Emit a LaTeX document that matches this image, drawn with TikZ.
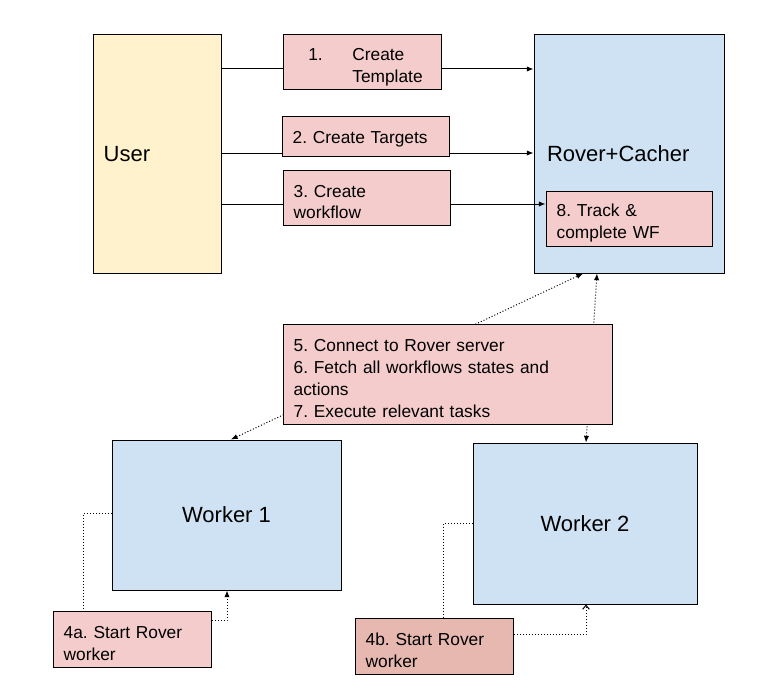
\documentclass[tikz,border=0pt]{standalone}
\usepackage{fontspec}
\setmainfont{Liberation Sans}
\frenchspacing
\usepackage{tikz}
\usetikzlibrary{arrows.meta,backgrounds}
\definecolor{userfill}{HTML}{FFF2CC}
\definecolor{nodefill}{HTML}{CFE2F3}
\definecolor{stepfill}{HTML}{F4CCCC}
\definecolor{startfill}{HTML}{E6B8AF}
\tikzstyle{box} = [draw=black, line width=0.75pt, rectangle, inner xsep=8pt, inner ysep=0pt, align=left]
\tikzstyle{stepbox} = [box, fill=stepfill, font=\fontsize{13}{16.3}\selectfont]
\tikzstyle{bigbox} = [box, fill=nodefill, font=\fontsize{16.5}{20}\selectfont]
\tikzstyle{lowered} = [execute at begin node={\rule{0pt}{16pt}}]
\tikzstyle{arrow} = [-{Latex[length=5pt,width=4pt]}, line width=0.75pt]
\tikzstyle{dots} = [line width=0.75pt, dash pattern=on 0.75pt off 1.5pt]
\begin{document}
\begin{tikzpicture}[x=0.75pt, y=-0.75pt]
      \useasboundingbox (0,0) rectangle (768,699);
      % workers
      \node[bigbox, minimum width=171.75pt, minimum height=112.5pt, align=center] (worker1) at (226.5,515) {Worker 1};
      \node[bigbox, minimum width=168pt, minimum height=120.75pt, align=center] (worker2) at (585,523.5) {Worker 2};
      % steps
      \node[stepbox, lowered, minimum width=118.5pt, minimum height=41.25pt, text width=102.5pt] (create1) at (362,62.5)
            {\hspace*{11pt}\makebox[33pt][l]{1.}Create\\\hspace*{44pt}Template};
      \node[stepbox, execute at begin node={\rule{0pt}{13pt}}, minimum width=125.25pt, minimum height=29.25pt, text width=109.25pt] (create2) at (365.5,136.5) {2. Create Targets};
      \node[stepbox, lowered, minimum width=125.25pt, minimum height=41.25pt, text width=109.25pt] (create3) at (366.5,197.5) {3. Create\\workflow};
      \node[stepbox, lowered, minimum width=124.5pt, minimum height=41.25pt, text width=108.5pt] (track) at (629,218.5) {8. Track \&\\complete WF};
      \node[stepbox, lowered, minimum width=246.75pt, minimum height=75pt, text width=230.75pt] (execute) at (447.5,374)
            {5. Connect to Rover server\\6. Fetch all workflows states and\\actions\\7. Execute relevant tasks};
      \node[stepbox, lowered, minimum width=118.5pt, minimum height=42pt, text width=102.5pt] (start1) at (132,639) {4a. Start Rover\\worker};
      \node[stepbox, lowered, fill=startfill, minimum width=118.5pt, minimum height=42pt, text width=102.5pt] (start2) at (434,646) {4b. Start Rover\\worker};
      \begin{pgfonlayer}{background}
      % user and server
      \node[bigbox, fill=userfill, minimum width=96pt, minimum height=178.5pt, text width=80pt] (user) at (157,154) {User};
      \node[bigbox, minimum width=142.5pt, minimum height=178.5pt, inner xsep=9.75pt, text width=123pt] (rover) at (629,154) {Rover+Cacher};
      % requests from the user
      \draw [arrow] (user.east |- 0,69) -- (rover.west |- 0,69);
      \draw [arrow] (user.east |- 0,153) -- (rover.west |- 0,153);
      \draw [arrow] (user.east |- 0,204) -- (track.west |- 0,204);
      % workers talk to the server
      \draw [dots, {Latex[length=5pt,width=4pt]}-{Latex[length=5pt,width=4pt]}] (worker1.north -| 231,0) -- (rover.south -| 583,0);
      \draw [dots, {Latex[length=5pt,width=4pt]}-{Latex[length=5pt,width=4pt]}] (worker2.north -| 586,0) -- (rover.south -| 597,0);
      % starting the workers
      \draw [dots] (worker1.west |- 0,513) -| (start1.north -| 83,0);
      \draw [dots, -{Latex[length=5pt,width=4pt]}] (start1.east |- 0,620) -| (worker1.south -| 227,0);
      \draw [dots] (worker2.west |- 0,523) -| (start2.north -| 443,0);
      \draw [dots, -{Straight Barb[length=3pt,width=5pt]}] (start2.east |- 0,634) -| (worker2.south -| 586,0);
      \end{pgfonlayer}
    \end{tikzpicture}
\end{document}
